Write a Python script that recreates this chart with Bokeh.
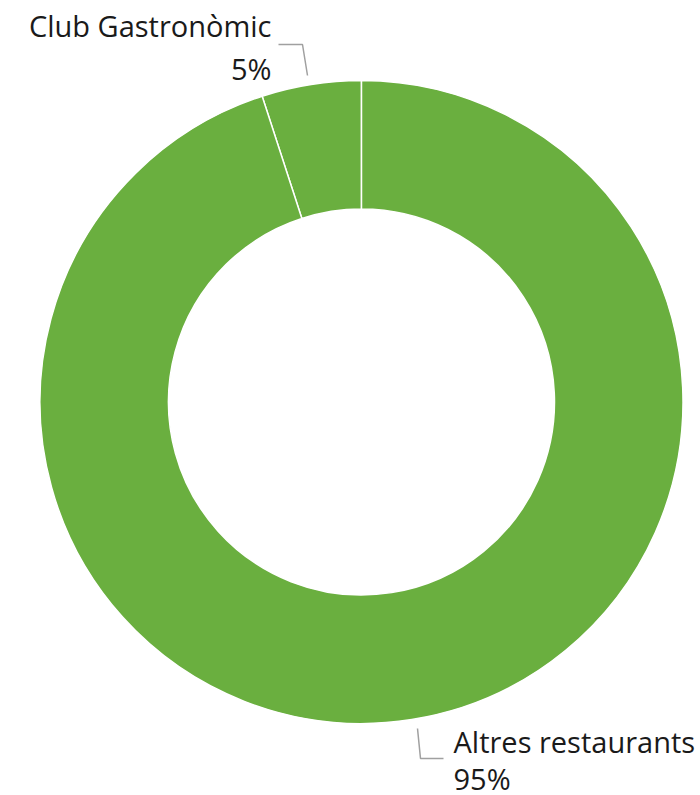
import numpy as np
from bokeh.plotting import figure
from bokeh.models import Range1d, ColumnDataSource
from bokeh.core.properties import value
from bokeh.embed import file_html
from bokeh.resources import INLINE

categories = ["Club Gastronòmic", "Altres restaurants"]
values = [5, 95]
pct_labels = ["5%", "95%"]

W, H = 700, 795
p = figure(width=W, height=H, output_backend="svg", toolbar_location=None,
           x_range=Range1d(0, W), y_range=Range1d(-H, 0),
           min_border=0, outline_line_color=None)
p.axis.visible = False
p.grid.visible = False

total = sum(values)
fr = np.array(values) / total
ends = np.cumsum(fr) * 2 * np.pi
starts = ends - fr * 2 * np.pi
# start at top (90deg), go counter-clockwise
src = ColumnDataSource(dict(start=np.pi / 2 + starts, end=np.pi / 2 + ends, cat=categories))
cx, cy = 361, -401.5
p.annular_wedge(x=cx, y=cy, inner_radius=193, outer_radius=321.5,
                start_angle="start", end_angle="end", direction="anticlock",
                fill_color="#6aaf3f", line_color="white", line_width=1.5, source=src)

font = value("Open Sans")
# Labels
p.text(x=[271, 271], y=[-25, -68], text=[categories[0], pct_labels[0]],
       text_align="right", text_baseline="alphabetic", text_font=font,
       text_font_size="29px", text_color="#1a1a1a")
p.text(x=[453, 453], y=[-741, -778], text=[categories[1], pct_labels[1]],
       text_align="left", text_baseline="alphabetic", text_font=font,
       text_font_size="29px", text_color="#1a1a1a")
# leader lines
p.line(x=[278, 302, 307], y=[-44, -44, -75], line_color="#a0a0a0", line_width=1.5)
p.line(x=[417, 420, 443], y=[-728, -758, -758], line_color="#a0a0a0", line_width=1.5)

open("out.html", "w").write(file_html(p, INLINE))
